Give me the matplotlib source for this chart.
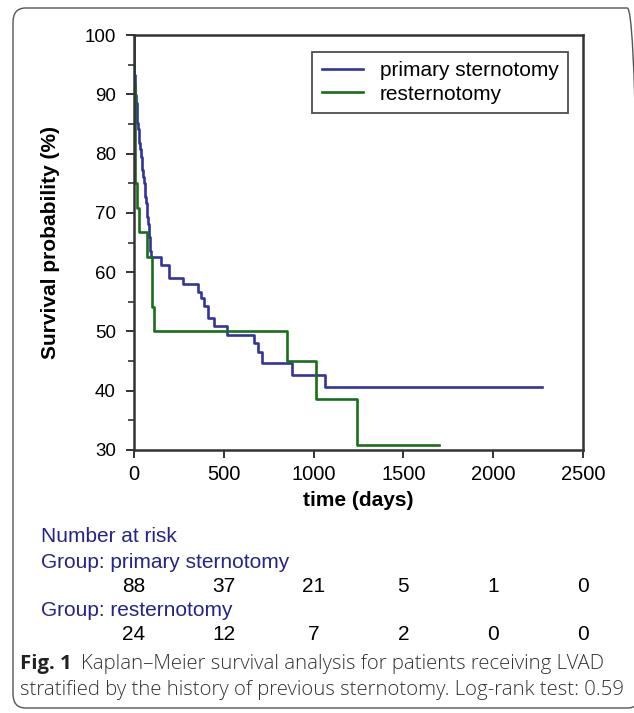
import matplotlib
matplotlib.use("Agg")
import matplotlib.pyplot as plt
from matplotlib.patches import FancyBboxPatch

# ---- data ----
blue_t = [0, 1, 3, 6, 8, 11, 14, 16, 19, 22, 26, 30, 35, 39, 43, 47, 52, 56, 60, 64,
          68, 72, 75, 79, 82, 85, 87, 89, 95, 149, 197, 275, 355, 371, 392, 414, 447,
          516, 668, 692, 711, 878, 1063, 2273]
blue_s = [100, 93.2, 92.0, 90.9, 89.8, 88.6, 87.5, 86.4, 85.2, 84.1, 83.0, 81.8, 80.7,
          79.5, 78.4, 77.3, 76.1, 75.0, 73.9, 72.7, 71.6, 70.5, 69.3, 68.2, 67.0, 65.9,
          64.8, 63.6, 62.5, 61.2, 59.0, 58.0, 56.7, 55.6, 54.3, 52.2, 50.9, 49.4, 48.0,
          46.6, 44.6, 42.7, 40.7, 40.7]
green_t = [0, 1, 2, 3, 4, 6, 8, 14, 30, 72, 102, 110, 854, 1013, 1243, 1698]
green_s = [100, 95.8, 91.7, 87.5, 83.3, 79.2, 75.0, 70.8, 66.7, 62.5, 54.2, 50.0,
           45.0, 38.6, 30.9, 30.9]

risk_times = [0, 500, 1000, 1500, 2000, 2500]
risk_primary = [88, 37, 21, 5, 1, 0]
risk_redo = [24, 12, 7, 2, 0, 0]

labels = ["primary sternotomy", "resternotomy"]

BLUE = "#333399"
GREEN = "#1a6e1a"
NAVY = "#24248a"

plt.rcParams['font.family'] = ['Liberation Sans', 'DejaVu Sans']

fig = plt.figure(figsize=(6.34, 7.13), dpi=100)
W, H = 634, 713

def fx(px):
    return px / W

def fy(py):
    return 1 - py / H

# outer rounded frame
frame = FancyBboxPatch((fx(13), fy(708)), fx(640) - fx(13), fy(8) - fy(708),
                       boxstyle="round,pad=0,rounding_size=0.02",
                       transform=fig.transFigure, fill=False,
                       edgecolor="#555555", linewidth=1.0, clip_on=False)
fig.patches.append(frame)

ax = fig.add_axes([fx(134), fy(450), fx(583) - fx(134), fy(35) - fy(450)])
ax.step(blue_t, blue_s, where="post", color=BLUE, lw=1.9, label=labels[0])
ax.step(green_t, green_s, where="post", color=GREEN, lw=1.9, label=labels[1])

ax.set_xlim(0, 2500)
ax.set_ylim(30, 100)
ax.set_xticks(risk_times)
ax.set_yticks([30, 40, 50, 60, 70, 80, 90, 100])
ax.set_yticks([35, 45, 55, 65, 75, 85, 95], minor=True)
ax.tick_params(axis="both", which="major", direction="out", length=6, width=1.4,
               color="#333333", pad=4)
ax.tick_params(axis="y", which="major", labelsize=13.5, pad=7)
ax.tick_params(axis="x", which="major", labelsize=14.5, pad=5)
ax.tick_params(axis="y", which="minor", direction="out", length=4, width=1.2, color="#333333")
for s in ax.spines.values():
    s.set_linewidth(1.8)
    s.set_color("#333333")

ax.set_xlabel("time (days)", fontsize=15, fontweight="bold", labelpad=5)
ax.set_ylabel("Survival probability (%)", fontsize=15, fontweight="bold", labelpad=18)

leg = ax.legend(loc="upper right", bbox_to_anchor=(0.967, 0.959), fontsize=15,
                frameon=True, fancybox=False, edgecolor="#222222", handlelength=2.0,
                borderpad=0.45, labelspacing=0.2, handletextpad=0.8, borderaxespad=0)
leg.get_frame().set_linewidth(1.3)

# number at risk table
fig.text(fx(41), fy(537), "Number at risk", color=NAVY, fontsize=15, va="center")
fig.text(fx(41), fy(562), "Group: " + labels[0], color=NAVY, fontsize=15, va="center")
fig.text(fx(41), fy(610), "Group: " + labels[1], color=NAVY, fontsize=15, va="center")
for t, n1, n2 in zip(risk_times, risk_primary, risk_redo):
    xf = fx(134 + t / 2500 * 449)
    fig.text(xf, fy(586), str(n1), fontsize=15, ha="center", va="center")
    fig.text(xf, fy(634), str(n2), fontsize=15, ha="center", va="center")

# caption
cap_font = ['Open Sans', 'DejaVu Sans']
fig.text(fx(20), fy(664), "Fig. 1", fontsize=14.7, fontweight="bold", family=cap_font,
         va="center", color="#222222")
fig.text(fx(81), fy(664), "Kaplan\u2013Meier survival analysis for patients receiving LVAD",
         fontsize=14.7, family=cap_font, va="center", color="#333333", fontweight="light")
fig.text(fx(20), fy(690), "stratified by the history of previous sternotomy. Log-rank test: 0.59",
         fontsize=14.7, family=cap_font, va="center", color="#333333", fontweight="light")

fig.savefig("out.png", dpi=100)
